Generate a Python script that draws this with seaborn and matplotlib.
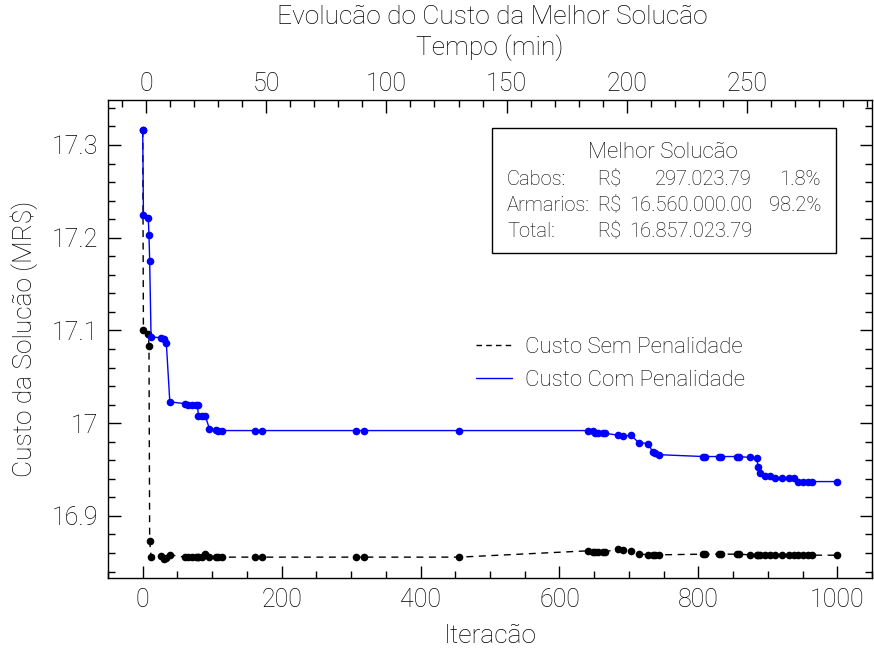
import matplotlib
matplotlib.use('Agg')
import matplotlib.pyplot as plt
import seaborn as sns
import numpy as np
from matplotlib.lines import Line2D
from matplotlib.patches import Rectangle
from matplotlib.ticker import MultipleLocator

# iteracoes em que a melhor solucao mudou
iteracao = [0, 1, 8, 9, 10, 12, 27, 31, 34, 39, 61, 65, 71, 76, 79, 80, 85, 90,
            96, 105, 108, 114, 161, 172, 307, 319, 456, 641, 648, 651, 655, 662,
            666, 685, 692, 703, 714, 728, 734, 738, 743, 807, 810, 829, 832, 855,
            858, 874, 884, 886, 889, 896, 903, 910, 921, 931, 938, 944, 950, 958,
            964, 1000]

custo_com_pen = [17.316, 17.225, 17.221, 17.203, 17.175, 17.093, 17.092, 17.091,
                 17.086, 17.023, 17.021, 17.020, 17.020, 17.020, 17.020, 17.008,
                 17.008, 17.008, 16.994, 16.993, 16.992, 16.992, 16.992, 16.992,
                 16.992, 16.992, 16.992, 16.992, 16.991, 16.989, 16.989, 16.989,
                 16.989, 16.987, 16.986, 16.987, 16.979, 16.978, 16.969, 16.968,
                 16.966, 16.964, 16.964, 16.964, 16.964, 16.964, 16.964, 16.963,
                 16.962, 16.953, 16.946, 16.943, 16.943, 16.941, 16.941, 16.941,
                 16.941, 16.937, 16.937, 16.937, 16.937, 16.937]

custo_sem_pen = [17.316, 17.100, 17.096, 17.083, 16.873, 16.856, 16.857, 16.853,
                 16.855, 16.858, 16.8555, 16.8555, 16.8555, 16.8555, 16.856, 16.856,
                 16.856, 16.859, 16.856, 16.8555, 16.8555, 16.8555, 16.8555, 16.8555,
                 16.8555, 16.8555, 16.8555, 16.8623, 16.8615, 16.8615, 16.8615,
                 16.8615, 16.8615, 16.864, 16.863, 16.8626, 16.859, 16.858, 16.858,
                 16.858, 16.858, 16.8587, 16.8587, 16.8587, 16.8587, 16.8587,
                 16.8587, 16.858, 16.8576, 16.8576, 16.8576, 16.8576, 16.8576,
                 16.8576, 16.8576, 16.8576, 16.8576, 16.8576, 16.8576, 16.8576,
                 16.8576, 16.8576]

tempo_ticks = [0, 50, 100, 150, 200, 250]

linhas_box = [('Cabos:', 'R$', '297.023.79', '1.8%'),
              ('Armarios:', 'R$', '16.560.000.00', '98.2%'),
              ('Total:', 'R$', '16.857.023.79', '')]

sns.set_theme(style='ticks')
plt.rcParams['font.family'] = ['Roboto', 'DejaVu Sans']
plt.rcParams['font.weight'] = 'light'
plt.rcParams['axes.labelweight'] = 'light'
plt.rcParams['text.color'] = 'black'
plt.rcParams['axes.labelcolor'] = 'black'
plt.rcParams['text.parse_math'] = False

fig = plt.figure(figsize=(8.74, 6.52), dpi=100)
ax = fig.add_axes([108 / 874, 1 - 578 / 652, 764 / 874, 478 / 652])

sns.lineplot(x=iteracao, y=custo_sem_pen, ax=ax, color='black', lw=1,
             linestyle=(0, (5, 4)), marker='o', markersize=5.5, markeredgewidth=0,
             estimator=None, sort=False)
sns.lineplot(x=iteracao, y=custo_com_pen, ax=ax, color='blue', lw=1,
             marker='o', markersize=5.5, markeredgewidth=0,
             estimator=None, sort=False)

ax.set_xlim(-50, 1050)
ax.set_ylim(16.833, 17.3485)
ax.xaxis.set_major_locator(MultipleLocator(200))
ax.xaxis.set_minor_locator(MultipleLocator(50))
ax.yaxis.set_minor_locator(MultipleLocator(0.02))
ax.set_yticks([16.9, 17.0, 17.1, 17.2, 17.3])
ax.set_yticklabels(['16.9', '17', '17.1', '17.2', '17.3'])
ax.tick_params(which='both', direction='in', right=True, colors='black',
               labelsize=18, width=1)
ax.tick_params(which='major', length=9, pad=7)
ax.tick_params(which='minor', length=5)
ax.set_xlabel('Iteracão', fontsize=19, labelpad=9)
ax.set_ylabel('Custo da Solucão (MR$)', fontsize=19, labelpad=10)
for s in ax.spines.values():
    s.set_visible(True)
    s.set_color('black')
    s.set_linewidth(1)

top = ax.twiny()
top.set_xlim(-15.8, 302)
top.set_xticks(tempo_ticks)
top.xaxis.set_minor_locator(MultipleLocator(10))
top.tick_params(which='both', direction='in', colors='black', labelsize=18, width=1)
top.tick_params(which='major', length=9, pad=3)
top.tick_params(which='minor', length=5)
top.set_xlabel('Tempo (min)', fontsize=19, labelpad=12)
for s in top.spines.values():
    s.set_visible(False)

fig.text(492 / 874, 1 - 17 / 652, 'Evolucão do Custo da Melhor Solucão',
         ha='center', va='center', fontsize=19)

handles = [Line2D([], [], color='black', lw=1, linestyle=(0, (4, 3))),
           Line2D([], [], color='blue', lw=1)]
ax.legend(handles, ['Custo Sem Penalidade', 'Custo Com Penalidade'],
          loc='center left', bbox_to_anchor=(456 / 874, 1 - 364 / 652),
          bbox_transform=fig.transFigure, frameon=False, fontsize=16,
          handlelength=1.6, handletextpad=0.6, labelspacing=0.55)

fig.add_artist(Rectangle((492 / 874, 1 - 253 / 652), 344 / 874, 125 / 652,
                         transform=fig.transFigure, fill=False,
                         edgecolor='black', lw=1))
fig.text(663 / 874, 1 - 153 / 652, 'Melhor Solucão', ha='center', va='center',
         fontsize=16)
for i, (rot, moeda, valor, pct) in enumerate(linhas_box):
    y = 1 - (179 + i * 26) / 652
    fig.text(507 / 874, y, rot, ha='left', va='center', fontsize=14.5)
    fig.text(597 / 874, y, moeda, ha='left', va='center', fontsize=14.5)
    fig.text(752 / 874, y, valor, ha='right', va='center', fontsize=14.5)
    fig.text(821 / 874, y, pct, ha='right', va='center', fontsize=14.5)

fig.savefig('out.png', dpi=100)
